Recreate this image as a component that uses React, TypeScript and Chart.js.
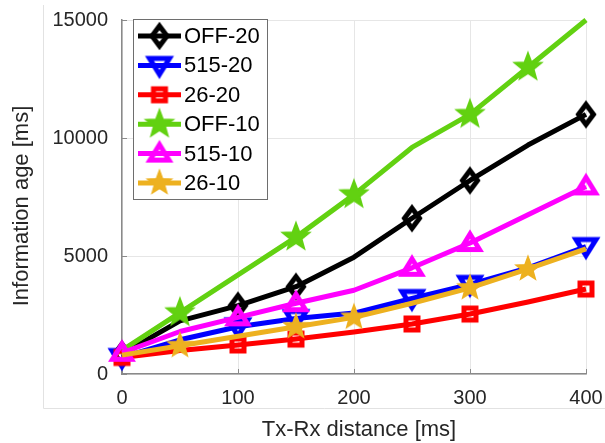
import { useEffect, useRef } from 'react';
import { Chart, registerables } from 'chart.js';

Chart.register(...registerables);

// Tx-Rx distance (x) and information age (y) for each configuration
const distances = [0, 50, 100, 150, 200, 250, 300, 350, 400];
const off20 = [850, 2250, 2900, 3700, 4950, 6600, 8200, 9700, 11000];
const ch515_20 = [700, 1450, 2000, 2350, 2580, 3200, 3800, 4500, 5400];
const ch26_20 = [700, 1000, 1230, 1480, 1780, 2120, 2540, 3050, 3600];
const off10 = [1000, 2600, 4200, 5800, 7600, 9600, 11000, 13000, 15000];
const ch515_10 = [900, 1800, 2400, 3000, 3550, 4500, 5550, 6750, 7950];
const ch26_10 = [800, 1200, 1600, 2000, 2400, 3000, 3650, 4450, 5300];

const seriesNames = ['OFF-20', '515-20', '26-20', 'OFF-10', '515-10', '26-10'];
const seriesValues = [off20, ch515_20, ch26_20, off10, ch515_10, ch26_10];
const seriesColors = ['#000000', '#0000ff', '#ff0000', '#62d111', '#ff00ff', '#edb120'];

// indices of the samples that carry a marker
const markersEveryOther = [0, 2, 3, 5, 6, 8];
const markersStars = [1, 3, 4, 6, 7];
const seriesMarkerIdx = [markersEveryOther, markersEveryOther, markersEveryOther, markersStars, markersEveryOther, markersStars];

const xTicks = [0, 100, 200, 300, 400];
const yTicks = [0, 5000, 10000, 15000];
const xTitle = 'Tx-Rx distance [ms]';
const yTitle = 'Information age [ms]';

const FONT = '"Liberation Sans", Arial, sans-serif';

type Shape = 'diamond' | 'triDown' | 'square' | 'star' | 'triUp' | 'starSmall';
const seriesShapes: Shape[] = ['diamond', 'triDown', 'square', 'star', 'triUp', 'starSmall'];

function makeMarker(shape: Shape, color: string): HTMLCanvasElement {
  const lw = 5;
  const c = document.createElement('canvas');
  const size = 40;
  c.width = size;
  c.height = size;
  const ctx = c.getContext('2d')!;
  ctx.translate(size / 2, size / 2);
  ctx.strokeStyle = color;
  ctx.fillStyle = color;
  ctx.lineWidth = lw;
  ctx.lineJoin = 'miter';
  ctx.miterLimit = 3;
  ctx.beginPath();
  let fill = false;
  if (shape === 'diamond') {
    ctx.moveTo(0, -10);
    ctx.lineTo(7.5, 0);
    ctx.lineTo(0, 10);
    ctx.lineTo(-7.5, 0);
  } else if (shape === 'triUp') {
    ctx.moveTo(0, -9);
    ctx.lineTo(9.5, 6.5);
    ctx.lineTo(-9.5, 6.5);
  } else if (shape === 'triDown') {
    ctx.moveTo(0, 9);
    ctx.lineTo(10, -7);
    ctx.lineTo(-10, -7);
  } else if (shape === 'square') {
    ctx.rect(-6, -6, 12, 12);
  } else {
    const R = shape === 'star' ? 14.5 : 12.5;
    const r = R * 0.42;
    for (let k = 0; k < 10; k++) {
      const rad = k % 2 === 0 ? R : r;
      const a = -Math.PI / 2 + (k * Math.PI) / 5;
      const px = rad * Math.cos(a);
      const py = rad * Math.sin(a);
      if (k === 0) ctx.moveTo(px, py);
      else ctx.lineTo(px, py);
    }
    fill = true;
    ctx.lineWidth = 1.5;
  }
  ctx.closePath();
  if (fill) ctx.fill();
  ctx.stroke();
  return c;
}

export default function App() {
  const canvasRef = useRef<HTMLCanvasElement | null>(null);

  useEffect(() => {
    const canvas = canvasRef.current;
    if (!canvas) return;
    const markers = seriesShapes.map((s, i) => makeMarker(s, seriesColors[i]));

    const datasets = seriesNames.map((name, i) => ({
      label: name,
      data: distances.map((x, j) => ({ x, y: seriesValues[i][j] })),
      borderColor: seriesColors[i],
      backgroundColor: seriesColors[i],
      borderWidth: 5,
      borderJoinStyle: 'round' as const,
      tension: 0,
      pointStyle: markers[i],
      pointRadius: distances.map((_, j) => (seriesMarkerIdx[i].includes(j) ? 8 : 0)),
      pointHoverRadius: 0,
      clip: false as const,
      order: seriesNames.length - i,
    }));

    const decor = {
      id: 'decor',
      beforeDraw(chart: Chart) {
        const ctx = chart.ctx;
        ctx.save();
        ctx.strokeStyle = '#e2e2e2';
        ctx.lineWidth = 1;
        ctx.beginPath();
        ctx.moveTo(43.5, 5);
        ctx.lineTo(43.5, 408.5);
        ctx.lineTo(605, 408.5);
        ctx.stroke();
        ctx.restore();
      },
      beforeDatasetsDraw(chart: Chart) {
        const ctx = chart.ctx;
        const { left, bottom } = chart.chartArea;
        const xs = chart.scales.x;
        const ys = chart.scales.y;
        ctx.save();
        ctx.strokeStyle = '#8a8a8a';
        ctx.lineWidth = 1;
        ctx.beginPath();
        for (const t of yTicks) {
          const py = Math.round(ys.getPixelForValue(t)) + 0.5;
          ctx.moveTo(left, py);
          ctx.lineTo(left + 5, py);
        }
        for (const t of xTicks) {
          const px = Math.round(xs.getPixelForValue(t)) + 0.5;
          ctx.moveTo(px, bottom);
          ctx.lineTo(px, bottom - 5);
        }
        ctx.stroke();
        ctx.restore();
      },
      afterDraw(chart: Chart) {
        const ctx = chart.ctx;
        const { left, right, top, bottom } = chart.chartArea;
        ctx.save();
        // axis titles
        ctx.fillStyle = '#262626';
        ctx.font = `22px ${FONT}`;
        ctx.textAlign = 'center';
        ctx.textBaseline = 'middle';
        ctx.fillText(xTitle, (left + right) / 2 + 5, 430);
        ctx.save();
        ctx.translate(22, (top + bottom) / 2 + 9);
        ctx.rotate(-Math.PI / 2);
        ctx.fillText(yTitle, 0, 0);
        ctx.restore();

        // legend box
        const bx = 133, by = 19, bw = 134, bh = 180;
        ctx.fillStyle = '#ffffff';
        ctx.fillRect(bx, by, bw, bh);
        ctx.strokeStyle = '#6e6e6e';
        ctx.lineWidth = 1;
        ctx.strokeRect(bx + 0.5, by + 0.5, bw, bh);
        ctx.font = `22px ${FONT}`;
        ctx.textAlign = 'left';
        ctx.textBaseline = 'middle';
        seriesNames.forEach((name, i) => {
          const cy = 36 + i * 29.4;
          ctx.strokeStyle = seriesColors[i];
          ctx.lineWidth = 5;
          ctx.beginPath();
          ctx.moveTo(138, cy);
          ctx.lineTo(181, cy);
          ctx.stroke();
          const m = markers[i];
          ctx.drawImage(m, 159.5 - m.width / 2, cy - m.height / 2);
          ctx.fillStyle = '#000000';
          ctx.fillText(name, 184, cy + 1);
        });
        ctx.restore();
      },
    };

    const chart = new Chart(canvas, {
      type: 'line',
      data: { datasets },
      options: {
        animation: false,
        responsive: false,
        devicePixelRatio: 1,
        layout: { padding: { top: 20, right: 19, left: 0, bottom: 0 } },
        plugins: { legend: { display: false }, tooltip: { enabled: false }, title: { display: false } },
        events: [],
        scales: {
          x: {
            type: 'linear',
            min: 0,
            max: 400,
            afterBuildTicks: (s: any) => {
              s.ticks = xTicks.map((v) => ({ value: v }));
            },
            afterFit: (s: any) => {
              s.height = 69;
              s.paddingLeft = 0;
              s.paddingRight = 0;
            },
            ticks: {
              font: { size: 20, family: FONT },
              color: '#262626',
              padding: 12,
              maxRotation: 0,
              callback: (v: any) => String(v),
            },
            grid: { color: '#e6e6e6', lineWidth: 1, drawTicks: false },
            border: { color: '#8a8a8a', width: 1.5 },
          },
          y: {
            type: 'linear',
            min: 0,
            max: 15000,
            afterBuildTicks: (s: any) => {
              s.ticks = yTicks.map((v) => ({ value: v }));
            },
            afterFit: (s: any) => {
              s.width = 122;
              s.paddingTop = 0;
              s.paddingBottom = 0;
            },
            ticks: {
              font: { size: 20, family: FONT },
              color: '#262626',
              padding: 14,
              callback: (v: any) => String(v),
            },
            grid: { color: '#e6e6e6', lineWidth: 1, drawTicks: false },
            border: { color: '#8a8a8a', width: 1.5 },
          },
        },
      },
      plugins: [decor],
    });

    return () => chart.destroy();
  }, []);

  return (
    <div style={{ position: 'absolute', left: 0, top: 0, width: 605, height: 443, background: '#fff' }}>
      <canvas ref={canvasRef} width={605} height={443} style={{ display: 'block', width: 605, height: 443 }} />
    </div>
  );
}
